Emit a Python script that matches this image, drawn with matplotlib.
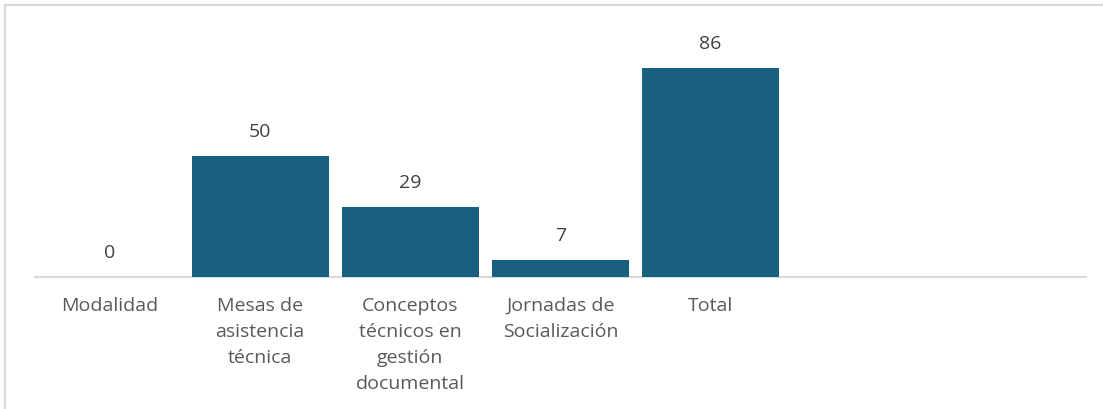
import matplotlib
matplotlib.use("Agg")
import matplotlib.pyplot as plt
from matplotlib.lines import Line2D

# Data
categories = ["Modalidad", "Mesas de\nasistencia\ntécnica",
              "Conceptos\ntécnicos en\ngestión\ndocumental",
              "Jornadas de\nSocialización", "Total"]
values = [0, 50, 29, 7, 86]
n_slots = 7  # category axis keeps two empty slots on the right

BAR_COLOR = "#185F80"
LABEL_COLOR = "#404040"
TICK_COLOR = "#595959"
GRID_COLOR = "#D9D9D9"

plt.rcParams["font.family"] = ["Open Sans", "DejaVu Sans"]

W, H = 1103, 409
fig = plt.figure(figsize=(W / 100, H / 100), dpi=100)

# Chart border: top and left edges (the rest runs past the image)
fig.add_artist(Line2D([5 / W, 1.0], [1 - 5 / H, 1 - 5 / H],
                      transform=fig.transFigure, color=GRID_COLOR, linewidth=1.6))
fig.add_artist(Line2D([5 / W, 5 / W], [0.0, 1 - 5 / H],
                      transform=fig.transFigure, color=GRID_COLOR, linewidth=1.6))

ax = fig.add_axes([35 / W, 132 / H, 1051 / W, 243 / H])
x = list(range(len(values)))
bars = ax.bar(x, values, width=0.913, color=BAR_COLOR, zorder=2)

ax.set_xlim(-0.5, n_slots - 0.5)
ax.set_ylim(0, 100)

for xi, v in zip(x, values):
    ax.annotate(f"{v}", xy=(xi, v), xytext=(0, 17), textcoords="offset points",
                ha="center", va="center", fontsize=14, color=LABEL_COLOR)

ax.set_xticks(x)
ax.set_xticklabels(categories, fontsize=14, color=TICK_COLOR,
                   linespacing=1.56, va="top")
ax.tick_params(axis="x", length=0, pad=14.5)
ax.set_yticks([])

for side in ["top", "right", "left"]:
    ax.spines[side].set_visible(False)
ax.spines["bottom"].set_color(GRID_COLOR)
ax.spines["bottom"].set_linewidth(1.5)
ax.spines["bottom"].set_zorder(1)

fig.savefig("out.png", dpi=100)
